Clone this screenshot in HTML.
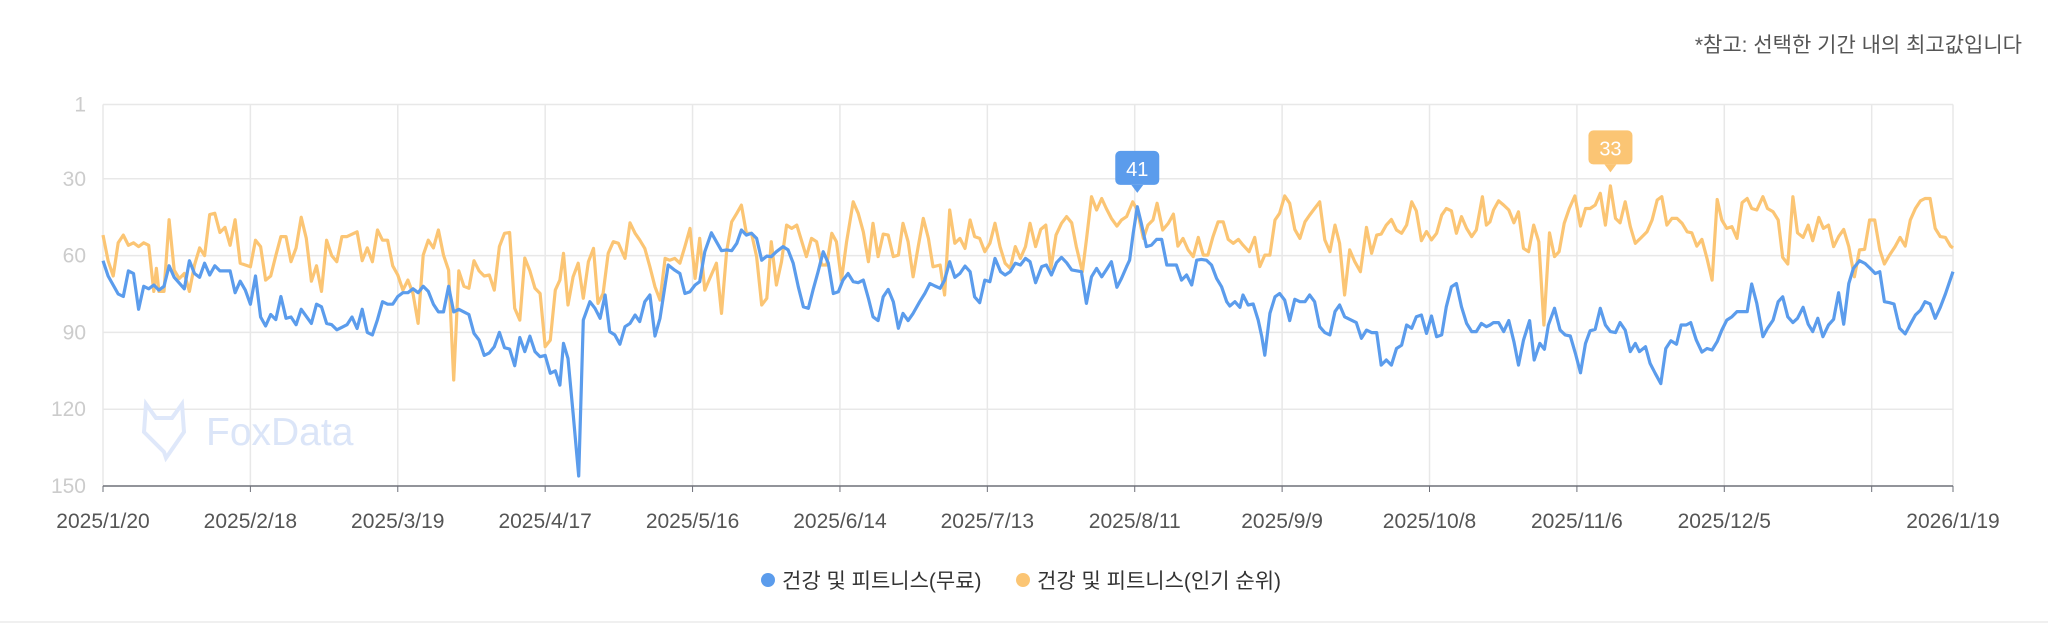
<!DOCTYPE html>
<html><head><meta charset="utf-8">
<style>
html,body{margin:0;padding:0;background:#fff;}
body{width:2048px;height:624px;overflow:hidden;position:relative;font-family:"Liberation Sans","Noto Sans CJK KR",sans-serif;}
#note{position:absolute;right:26px;top:29px;font-size:21px;color:#555;}
#bottom-rule{position:absolute;left:0;top:621px;width:2048px;height:2px;background:#f0f0f0;}
</style></head>
<body>
<div id="note">*참고: 선택한 기간 내의 최고값입니다</div>
<svg id="chart" width="2048" height="624" style="position:absolute;left:0;top:0" xmlns="http://www.w3.org/2000/svg"></svg>
<div id="bottom-rule"></div>
<script>
const tickDays = [0,29,58,87,116,145,174,203,232,261,290,319,348,364];
const tickLabels = ["2025/1/20","2025/2/18","2025/3/19","2025/4/17","2025/5/16","2025/6/14","2025/7/13","2025/8/11","2025/9/9","2025/10/8","2025/11/6","2025/12/5","","2026/1/19"];
const yTicks = [1,30,60,90,120,150];
const seriesNames = ["건강 및 피트니스(무료)","건강 및 피트니스(인기 순위)"];
const blueDays = [0,1,3,4,5,6,7,8,9,10,11,12,13,14,16,17,18,19,20,21,22,23,25,26,27,28,29,30,31,32,33,34,35,36,37,38,39,41,42,43,44,45,46,47,48,49,50,51,52,53,54,55,56,57,58,59,60,61,62,63,64,65,66,67,68,69,70,71,72,73,74,75,76,77,78,79,80,81,82,83,84,85,86,87,88,89,
89.9,90.6,91.5,92.5,93.6,94.5,95.8,96.8,97.8,98.8,99.7,100.7,101.7,102.7,103.7,104.7,105.6,106.6,107.6,108.6,109.6,111.2,112.5,113.5,114.5,115.5,116.5,117.4,118.4,119.7,120.7,121.7,122.7,123.7,124.7,125.6,126.6,127.6,128.6,129.6,130.6,131.5,132.5,133.8,134.8,135.8,136.8,137.8,138.8,139.7,140.7,141.7,142.7,143.7,144.7,145.6,146.6,147.6,148.6,149.6,150.6,151.5,152.5,153.5,154.5,155.5,156.5,157.4,158.4,159.4,160.7,161.7,162.7,163.7,164.7,165.6,166.6,167.6,168.6,169.6,170.6,171.5,172.5,173.5,174.5,175.5,176.6,177.5,178.5,179.5,180.5,181.5,182.4,
183.5,184.7,185.6,186.6,187.6,188.6,189.6,190.6,192.5,193.5,194.5,195.5,196.5,197.4,198.4,199.5,200.4,201.4,202,202.7,203.5,204.3,205.3,206.3,207.3,208.3,209.3,210.2,211.2,212.2,213.2,214.2,215.2,216.1,217.1,218.1,219.1,220.1,221.1,221.7,222.7,223.7,224.3,225.3,226.3,227.3,228,228.6,229.6,230.6,231.5,232.5,233.5,234.5,235.5,236.5,237.4,238.4,239.4,240.4,241.4,242.4,243.3,244.3,245.6,246.6,247.6,248.6,249.6,250.6,251.5,252.5,253.5,254.5,255.5,256.5,257.5,258.4,259.4,260.4,261.4,262.4,263.4,264.3,265.3,266.3,267.3,268.3,269.3,270.2,271.2,272.2,272.9,
273.6,274.6,275.6,276.6,277.6,278.5,279.5,280.7,281.6,282.7,283.6,284.4,285.6,286.7,287.7,288.7,289.7,290.7,291.7,292.6,293.6,294.6,295.6,296.6,297.6,298.5,299.5,300.5,301.5,302.3,303.5,304.4,305.4,306.5,307.5,308.5,309.6,310.5,311.5,312.4,313.5,314.6,315.6,316.6,317.6,318.5,319.5,320.5,321.5,322.5,323.5,324.4,325.4,326.6,327.5,328.6,329.6,330.5,331.5,332.5,333.4,334.5,335.5,336.4,337.4,338.4,339.5,340.5,341.5,342.5,343.5,344.4,345.6,346.7,347.7,348.7,349.6,350.5,351.5,352.4,353.5,354.6,355.6,356.6,357.6,358.5,359.5,360.5,361.5,362.5,364];
const blueRanks = [62,68,75,76,66,67,81,72,73,71.5,73.5,72,64,68.5,73,62,67,68.5,63,67.6,64,66,66,74.5,70,73.5,79,68,84,87.5,83,85,76,84.5,84,87,81,86.5,79,80,86.5,87,89,88,87,84,88.5,81,90,91,85,78,79,79,76,74.5,74.5,73,74.5,72,74,79,82,82,72,82,81,82,83,90.4,93,99,98,95.6,90,96,96.5,103,92,97.5,91.5,97.5,99.5,99,106,105,
110.6,94.3,100.2,121.6,146.1,85.2,78,80.6,84.5,75.4,89.7,91,94.6,87.8,86.5,83.2,85.8,78,75.4,91.4,84.5,63.7,65.7,67,74.8,74.1,71.5,70.2,58.5,51.1,54.6,58.1,57.8,58.1,55.2,50,52,51.3,53.3,61.8,60.2,60.4,58.5,56.5,57.8,63,72.2,80,80.6,73.5,66.3,58.5,63,74.8,74.1,69.6,67,70.2,70.6,69.6,76.7,83.9,85.4,76.1,73.2,78,88.4,82.6,85.4,82.6,78,74.8,70.9,71.9,72.8,69.6,62.4,68.5,67,64.1,66.3,76.1,78.4,69.6,70.2,61.1,66.3,67.6,66.3,63,63.7,61.1,62.4,
70.6,64.3,63.7,67.6,62.8,60.7,62.8,65.6,66.3,78.7,68.3,65,68.3,65.6,62.4,72.4,68.9,64.3,61.8,51.3,40.9,47.4,56.5,55.9,53.7,53.7,63.7,63.7,63.7,69.6,67.6,71.5,61.8,61.5,61.8,63.7,68.9,72.2,78,79.7,78,80.2,75.4,79.3,78.9,85.2,91.7,98.9,82.6,76.1,74.8,77.4,85.4,77.1,78,78,75.4,78,87.8,90.1,91,81.9,79.3,83.9,85.2,86.2,92.3,89.1,90.1,90.1,102.8,100.8,102.8,96.3,95,87.1,88.4,83.9,83.2,90.4,83.6,91.7,91,80,72.2,70.9,80,86.5,89.7,89.7,86.5,87.8,87.1,
86.2,86.2,89.7,85.4,93.6,102.8,93,85.4,100.8,94.3,96.6,87.1,80.6,89.1,91,91.4,98.2,105.8,94.3,89.4,88.8,80.6,87.1,89.7,90.1,86.2,89.1,97.5,94.3,97.5,95.6,102.1,106,110,96.3,93.3,94.6,87.1,87.1,86.2,93,97.7,96.3,96.9,93.6,89.1,85.2,83.9,81.9,81.9,81.9,71.1,78.7,91.7,88.4,85.2,78,76.1,83.9,86.2,84.5,80.2,86.8,89.7,84.5,91.7,87.1,84.9,74.5,86.8,70.9,65,62,63.1,65,67,66.3,78,78.4,78.9,88.4,90.6,86.8,83.2,81.3,78,78.9,84.5,80.2,75,66.3];
const orangeDays = [0,1,2,3,4,5,6,7,8,9,10,10.5,11,12,13,14,15,16,17,18,19,20,21,22,23,24,25,26,27,28,29,30,31,32,33,34,35,36,37,38,39,40,41,42,43,44,45,46,47,48,50,51,52,53,54,55,56,57,58,59,60,61,62,63,64,65,66,67,68,69,70,71,72,73,74,75,76,77,78,79,80,81,82,83,84,85,86,87,88,89,
89.9,90.6,91.5,92.5,93.5,94.5,95.5,96.5,97.4,98.4,99.4,100.4,101.4,102.7,103.7,104.7,105.6,106.6,107.6,108.6,109.6,110.6,111.5,112.5,113.5,114.5,115.5,116.5,117.4,118.4,119.4,120.7,121.7,122.7,123.7,124.7,125.6,126.6,127.6,128.6,129.6,130.6,131.5,132.5,133.5,134.5,135.5,136.5,137.4,138.4,139.4,140.4,141.4,142.4,143.4,144.3,145.3,146.3,147.6,148.6,149.6,150.6,151.5,152.5,153.5,154.5,155.5,156.5,157.4,158.4,159.4,160.4,161.4,162.4,163.3,164.7,165.6,166.6,167.6,168.6,169.6,170.6,171.5,172.5,173.5,174.5,175.5,176.5,177.5,178.5,179.5,180.5,181.5,182.4,
183.5,184.5,185.5,186.5,187.5,188.6,189.6,190.6,191.5,192.7,193.5,194.5,195.5,196.5,197.4,198.4,199.5,200.4,201.4,202.6,203.5,204.7,205.6,206.6,207.4,208.5,209.6,210.6,211.5,212.5,213.5,214.5,215.5,216.5,217.4,218.4,219.4,220.4,221.4,222.4,223.4,224.3,225.5,226.6,227.6,228.6,229.6,230.6,231.5,232.5,233.5,234.5,235.5,236.5,237.4,238.4,239.4,240.4,241.4,242.4,243.3,244.3,245.3,246.3,247.4,248.6,249.6,250.6,251.5,252.5,253.5,254.5,255.5,256.5,257.5,258.4,259.4,260.4,261.4,262.4,263.4,264.3,265.3,266.3,267.3,268.3,269.3,270.2,271.4,272.2,272.9,
273.6,274.6,275.6,276.6,277.6,278.5,279.5,280.5,281.5,282.5,283.5,284.6,285.6,286.5,287.5,288.5,289.6,290.7,291.7,292.6,293.6,294.6,295.6,296.6,297.6,298.5,299.5,300.5,301.5,302.5,303.8,304.8,305.8,306.7,307.7,308.7,309.7,310.7,311.7,312.6,313.6,314.6,315.6,316.6,317.6,318.5,319.5,320.5,321.5,322.5,323.5,324.4,325.4,326.6,327.5,328.6,329.6,330.5,331.5,332.5,333.4,334.5,335.5,336.4,337.6,338.5,339.5,340.5,341.5,342.5,343.5,344.6,345.6,346.6,347.6,348.6,349.6,350.5,351.5,352.6,353.6,354.6,355.6,356.6,357.6,358.5,359.5,360.5,361.5,362.5,363.5,364];
const orangeRanks = [52,62,68,55,52,56,55,56.5,55,56,74,65,74,74,46,65.7,69,67,74,63.7,57,60,44,43.5,51,49,56,46,63,63.7,64.4,54,56.5,69.6,68,60,52.6,52.6,62.4,57,45,53.3,70,64,74,54,60,62.4,52.6,52.6,50.7,62,57,62.4,50,54,54,64,67.6,73.5,69.6,74.8,86.5,59.8,54,57,50,59.8,65.7,108.6,66,72,72.8,62,66,68,67.6,73.5,56.5,51.3,51,80.6,85.2,61,66,72.8,74.8,95.6,93,73.5,
69.6,59.1,79.3,68.3,63,76.7,62.4,57.2,78.7,74.8,59.1,54.6,55.2,61.1,47.2,51.3,53.9,57.2,64.4,72.2,77.4,61.1,61.8,61.1,63,56.5,49.4,68.9,53.3,73.5,68.9,63,82.6,58.5,46.8,43.5,40.3,51.3,51.3,60.4,79.3,76.7,54.6,71.5,62.4,48.1,49.4,48.1,53.9,60.4,53.3,54.6,63.7,63.7,51.3,54.6,69.6,54.6,39,43.5,50.7,62.4,47.4,60.4,51.6,52,60.4,59.8,47.4,54.6,68.3,56.5,45.5,53.3,64.4,63.7,75.4,42.2,55.2,53.3,57.2,46.1,52.6,53.3,58.5,55.2,47.4,56.5,63,65,56.5,61.1,56.5,47.4,
56.5,49.8,48.1,65,52,47.4,44.8,47.2,56.5,66.3,53.9,37,42.2,37.7,41.6,45.5,48.5,46.1,44.8,39,42.2,53.3,48.1,46.1,39.6,50,47.4,43.8,56.3,53.3,57.8,60.4,52.9,59.8,59.8,52.6,46.8,46.8,53.7,55.2,53.7,55.9,58.5,52.9,64.3,59.8,59.8,46.1,43.5,36.7,39.6,49.8,53.3,46.8,44.2,41.6,39,53.9,58.5,48.1,55.2,75.4,57.8,62.4,66.3,49,59.1,52,51.6,48.1,45.9,50,51.3,48.1,39,42.5,54.2,50.6,53.9,51.3,44.2,41.6,42.5,51.3,44.8,49.4,52.6,50,37,48.1,46.8,
42.2,38.6,40.3,42.2,47.2,42.9,57.2,58.5,48.1,54.6,87.1,51.1,60.4,58.5,47.4,41.6,36.7,48.5,41.6,41.6,40.3,35.7,48.1,32.8,45.5,47.2,39,48.7,55.2,53.3,50.7,46.1,38.3,37,48.1,45.5,45.5,47.4,50.7,51.1,56.3,53.7,61.1,69.6,38.1,46.1,49.4,48.7,53.3,39.3,37.7,41.6,42.2,37,41.6,42.9,46.1,60.7,63.3,37,51.1,52.9,48.1,54.2,45.1,49.4,48.1,56.5,52.6,49.8,56.5,68.3,57.8,57.6,46.1,46.1,57.8,63.3,59.8,56.5,52.9,56.3,46.1,41.6,38.6,37.7,37.7,49.4,52.6,52.9,56.3,57];
const blueMax = 41, blueMaxDay = 203.5;
const orangeMax = 33, orangeMaxDay = 296.6;

const NS = "http://www.w3.org/2000/svg";
const svg = document.getElementById('chart');
const X0 = 103, X1 = 1953, Y1 = 104.5, Y150 = 486;
const xs = d => X0 + d / 364 * (X1 - X0);
const ys = r => Y1 + (r - 1) / 149 * (Y150 - Y1);
function mk(tag, attrs, text) {
  const e = document.createElementNS(NS, tag);
  for (const k in attrs) e.setAttribute(k, attrs[k]);
  if (text !== undefined) e.textContent = text;
  svg.appendChild(e);
  return e;
}
yTicks.forEach(t => {
  if (t !== 150) {
    const g = mk('line', {x1: X0, x2: X1, y1: ys(t), y2: ys(t), stroke: '#e8e8e8', 'stroke-width': 1.5});
    
    
  }
  const l = mk('text', {x: 86, y: ys(t) + 7, 'text-anchor': 'end', 'font-size': 21, fill: '#cccccc'}, String(t));
  
  
});
tickDays.forEach((d, i) => {
  const x = xs(d);
  const g = mk('line', {x1: x, x2: x, y1: ys(1), y2: Y150, stroke: '#e8e8e8', 'stroke-width': 1.5});
  
  
  const t = mk('line', {x1: x, x2: x, y1: Y150, y2: Y150 + 6, stroke: '#6e7079', 'stroke-width': 1});
  
  
  if (tickLabels[i]) {
    const l = mk('text', {x: x, y: 528, 'text-anchor': 'middle', 'font-size': 21, fill: '#555'}, tickLabels[i]);
    
    
  }
});
const ax = mk('line', {x1: X0, x2: X1, y1: Y150, y2: Y150, stroke: '#6e7079', 'stroke-width': 1.5});


const wm = mk('text', {x: 206, y: 445, 'font-size': 39, fill: '#dbe5f8'}, 'FoxData');


const fox = mk('path', {d: 'M146 404 L156 418 L172 418 L182 404 L184 432 L166 458 L164 452 L144 432 Z', fill: 'none', stroke: '#dfe8fa', 'stroke-width': 4});


function line(days, ranks, color, name) {
  const pts = days.map((d, i) => xs(d).toFixed(1) + ',' + ys(ranks[i]).toFixed(1)).join(' ');
  const p = mk('polyline', {points: pts, fill: 'none', stroke: color, 'stroke-width': 3.2, 'stroke-linejoin': 'round'});
  
  
}
line(orangeDays, orangeRanks, '#fbc574', 'series-popular-rank-line');
line(blueDays, blueRanks, '#5b9cec', 'series-free-line');
function badge(day, val, color, name) {
  const x = xs(day), y = ys(val);
  const w = 44, h = 34, top = y - 22 - h;
  const r = mk('rect', {x: x - w / 2, y: top, width: w, height: h, rx: 5, fill: color});
  
  
  const tri = mk('path', {d: `M${x - 6} ${top + h} L${x + 6} ${top + h} L${x} ${top + h + 8} Z`, fill: color});
  
  
  const t = mk('text', {x: x, y: top + 25, 'text-anchor': 'middle', 'font-size': 20, fill: '#fff'}, String(val));
  
  
}
badge(blueMaxDay, blueMax, '#5b9cec', 'free-max-badge');
badge(orangeMaxDay, orangeMax, '#fbc574', 'popular-max-badge');
const legendX = [768, 1023], legendColors = ['#5b9cec', '#fbc574'];
seriesNames.forEach((n, i) => {
  const c = mk('circle', {cx: legendX[i], cy: 580, r: 7, fill: legendColors[i]});
  
  
  const t = mk('text', {x: legendX[i] + 14, y: 588, 'font-size': 21, fill: '#333'}, n);
  
  
});
</script>
</body></html>
